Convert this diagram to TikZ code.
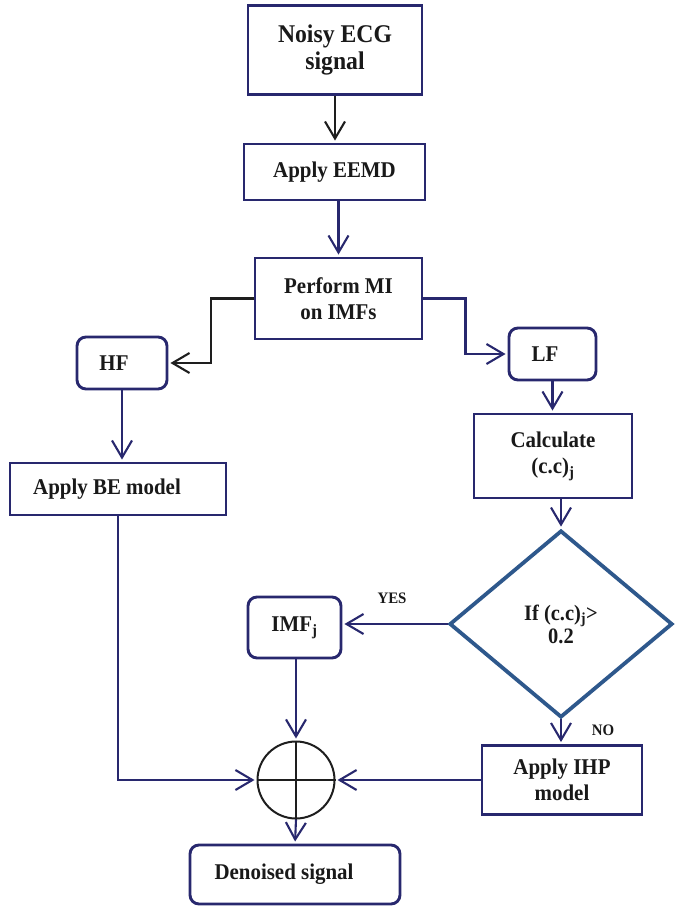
\documentclass[tikz,border=0pt]{standalone}
\usepackage{fontspec}
\setmainfont{Liberation Serif}[FakeStretch=0.93]
\usetikzlibrary{arrows.meta,shapes.geometric}
\definecolor{boxblue}{RGB}{40,40,110}
\definecolor{diablue}{RGB}{46,88,140}
\definecolor{linedark}{RGB}{30,30,30}
\begin{document}
\begin{tikzpicture}[x=1pt,y=-1pt,font=\bfseries\fontsize{22.5}{26}\selectfont,
  >={Straight Barb[length=17pt,width=20pt]},
  box/.style={draw=boxblue,line width=2.9pt,align=center,inner sep=0pt,text=black!90},
  rbox/.style={box,rounded corners=9pt},
  dec/.style={diamond,draw=diablue,line width=3.8pt,align=center,inner sep=0pt,text=black!90,font=\bfseries\fontsize{22}{23}\selectfont},
  flow/.style={->,draw=boxblue,line width=2.1pt,shorten >=2pt},
  flowk/.style={->,draw=linedark,line width=2.1pt,shorten >=2pt},
  tag/.style={text=black!90,font=\bfseries\fontsize{16}{18}\selectfont}]
\useasboundingbox (0,0) rectangle (688,908);
\node[box,minimum width=174pt,minimum height=89pt,font=\bfseries\fontsize{25.5}{27}\selectfont] (ecg) at (335,50) {Noisy ECG\\signal};
\node[box,minimum width=181pt,minimum height=56pt] (eemd) at (334.5,172) {Apply EEMD};
\node[box,minimum width=167pt,minimum height=81pt] (mi) at (338.5,298.5) {Perform MI\\on IMFs};
\node[rbox,minimum width=90pt,minimum height=52pt] (hf) at (122,363) {HF\hspace*{16pt}};
\node[rbox,minimum width=87pt,minimum height=52pt] (lf) at (552.5,354) {LF\hspace*{15pt}};
\node[box,minimum width=216pt,minimum height=52pt] (be) at (118,489) {Apply BE model\hspace*{22pt}};
\node[box,minimum width=158pt,minimum height=84pt] (calc) at (553,456) {Calculate\\(c.c)\textsubscript{j}};
\node[dec,minimum width=223pt,minimum height=187pt] (test) at (561,624) {If (c.c)\textsubscript{j}>\\0.2};
\node[rbox,minimum width=93pt,minimum height=61pt] (imf) at (294.5,627.5) {IMF\textsubscript{j}};
\node[box,minimum width=160pt,minimum height=69pt] (ihp) at (562,780) {Apply IHP\\model};
\node[circle,draw=linedark,line width=2pt,minimum size=77pt,inner sep=0pt] (sum) at (296,780) {};
\node[rbox,minimum width=210pt,minimum height=59pt] (out) at (295,874.5) {Denoised signal\hspace*{22pt}};
\node[tag] (yes) at (392,598) {YES};
\node[tag] (no) at (603,730) {NO};
\draw[linedark,line width=2pt] (sum.north) -- (sum.south) (sum.west) -- (sum.east);
\draw[flowk] (ecg.south) -- (ecg.south |- eemd.north);
\draw[flow] (mi.north |- eemd.south) -- (mi.north);
\draw[flowk] (mi.west) -- ++(-43,0) |- (hf.east);
\draw[flow] (mi.east) -- ++(42,0) |- (lf.west);
\draw[flow] (hf.south) -- (hf.south |- be.north);
\draw[flow] (lf.south) -- (lf.south |- calc.north);
\draw[flow] (test.north |- calc.south) -- (test.north);
\draw[flow] (test.west) -- (test.west -| imf.east);
\draw[flow] (test.south) -- (test.south |- ihp.north);
\draw[flow] (sum.north |- imf.south) -- (sum.north);
\draw[flow] (be.south) |- (sum.west);
\draw[flow] (ihp.west) -- (sum.east);
\draw[flow] (sum.south) -- (out.north);
\end{tikzpicture}
\end{document}
